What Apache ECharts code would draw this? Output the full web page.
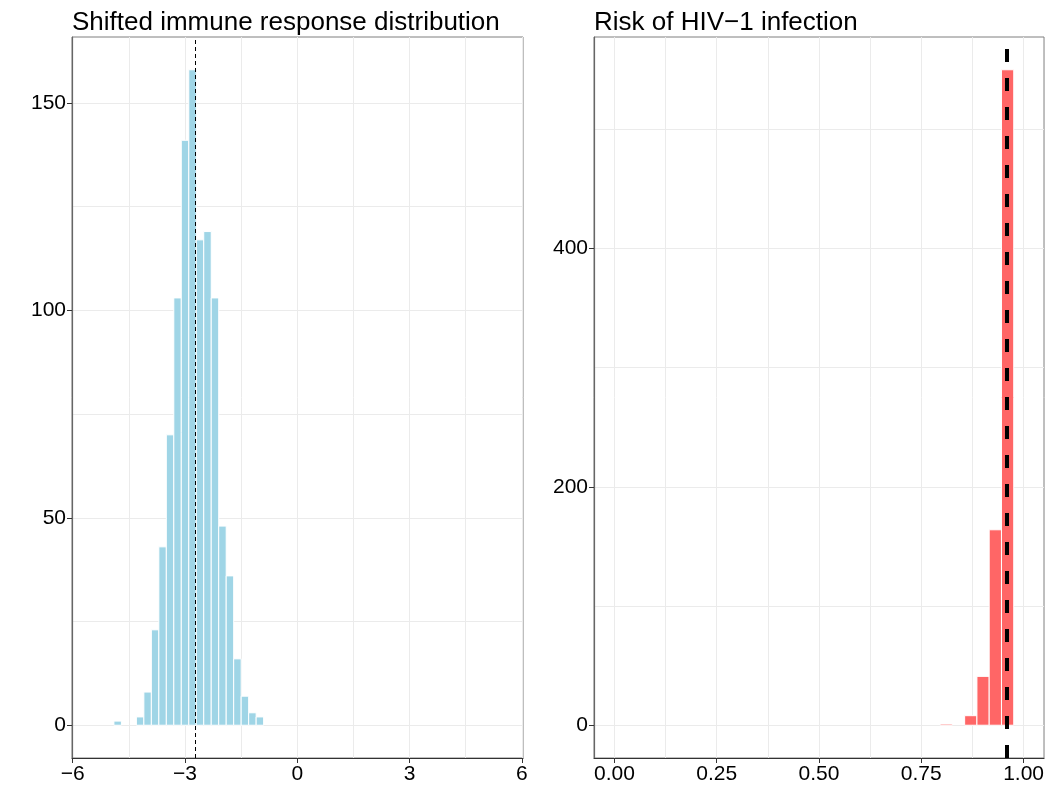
<!DOCTYPE html>
<html>
<head>
<meta charset="utf-8">
<script src="https://cdn.jsdelivr.net/npm/echarts@6/dist/echarts.min.js"></script>
<style>
  html, body { margin: 0; padding: 0; background: #fff; }
  #chart { width: 1047px; height: 797px; }
</style>
</head>
<body>
<div id="chart"></div>
<script>
// left panel: shifted immune response histogram (bin centres, counts)
const immuneBins = [-4.8, -4.2, -4.0, -3.8, -3.6, -3.4, -3.2, -3.0, -2.8, -2.6, -2.4, -2.2, -2.0, -1.8, -1.6, -1.4, -1.2, -1.0]
const immuneCounts = [1, 2, 8, 23, 43, 70, 103, 141, 158, 117, 119, 103, 48, 36, 16, 7, 3, 2]
const immuneBinWidth = 0.2
const immuneMean = -2.73

// right panel: risk of HIV-1 infection histogram
const riskBins = [0.811, 0.871, 0.901, 0.931, 0.961]
const riskCounts = [1, 8, 41, 164, 550]
const riskBinWidth = 0.03
const riskMean = 0.9585

// tick labels
const immuneXTicks = [-6, -3, 0, 3, 6]
const immuneYTicks = [0, 50, 100, 150]
const riskXTicks = [0, 0.25, 0.5, 0.75, 1]
const riskYTicks = [0, 200, 400]
// grid lines (major + minor)
const immuneXGrid = [-6, -4.5, -3, -1.5, 0, 1.5, 3, 4.5, 6]
const immuneYGrid = [0, 25, 50, 75, 100, 125, 150]
const riskXGrid = [0, 0.125, 0.25, 0.375, 0.5, 0.625, 0.75, 0.875, 1]
const riskYGrid = [0, 100, 200, 300, 400, 500]

const FONT = 'Liberation Sans, Arial, Helvetica, sans-serif'

let myChart = echarts.init(document.getElementById('chart'))

function minusFmt(v) {
  return v < 0 ? '\u2212' + Math.abs(v) : String(v)
}

function barRenderer(width, color) {
  return function (params, api) {
    let x = api.value(0)
    let c = api.value(1)
    let p0 = api.coord([x - width / 2, 0])
    let p1 = api.coord([x + width / 2, c])
    return {
      type: 'rect',
      shape: { x: p0[0], y: p1[1], width: p1[0] - p0[0], height: p0[1] - p1[1] },
      style: { fill: color, stroke: '#ffffff', lineWidth: 1 }
    }
  }
}

function mainAxis(gridIndex, min, max, ticks, fmt, lineColor) {
  return {
    type: 'value',
    gridIndex: gridIndex,
    min: min,
    max: max,
    axisLine: { show: true, onZero: false, lineStyle: { color: lineColor, width: 1.2 } },
    axisTick: { show: true, length: 5, customValues: ticks, lineStyle: { color: '#333' } },
    axisLabel: { show: true, customValues: ticks, formatter: fmt, color: '#000', fontSize: 21, fontFamily: FONT, margin: 6 },
    splitLine: { show: false }
  }
}

function gridAxis(gridIndex, min, max, values) {
  return {
    type: 'value',
    gridIndex: gridIndex,
    min: min,
    max: max,
    axisLine: { show: false },
    axisTick: { show: false, customValues: values },
    axisLabel: { show: false, customValues: values },
    splitLine: { show: true, customValues: values, lineStyle: { color: '#ebebeb', width: 1 } }
  }
}

let options = {
  backgroundColor: '#ffffff',
  animation: false,
  title: [
    { text: 'Shifted immune response distribution', left: 67, top: 5,
      textStyle: { fontSize: 26, fontWeight: 'normal', color: '#000', fontFamily: FONT } },
    { text: 'Risk of HIV\u22121 infection', left: 589, top: 5,
      textStyle: { fontSize: 26, fontWeight: 'normal', color: '#000', fontFamily: FONT } }
  ],
  grid: [
    { left: 72, right: 524, top: 37, bottom: 39, show: true, borderColor: '#7f7f7f', borderWidth: 1 },
    { left: 594, right: 2, top: 37, bottom: 39, show: true, borderColor: '#7f7f7f', borderWidth: 1 }
  ],
  xAxis: [
    mainAxis(0, -6.02, 6.03, immuneXTicks, minusFmt, '#333'),
    mainAxis(1, -0.05, 1.05, riskXTicks, v => v.toFixed(2), '#333'),
    gridAxis(0, -6.02, 6.03, immuneXGrid),
    gridAxis(1, -0.05, 1.05, riskXGrid)
  ],
  yAxis: [
    mainAxis(0, -7.9, 165.9, immuneYTicks, minusFmt, '#666'),
    mainAxis(1, -27.5, 577.5, riskYTicks, minusFmt, '#666'),
    gridAxis(0, -7.9, 165.9, immuneYGrid),
    gridAxis(1, -27.5, 577.5, riskYGrid)
  ],
  series: [
    {
      type: 'custom',
      xAxisIndex: 0,
      yAxisIndex: 0,
      renderItem: barRenderer(immuneBinWidth, '#9fd5e6'),
      data: immuneBins.map((b, i) => [b, immuneCounts[i]]),
      markLine: {
        silent: true,
        symbol: 'none',
        label: { show: false },
        lineStyle: { color: '#000', width: 1, type: [4, 3] },
        data: [{ xAxis: immuneMean }]
      }
    },
    {
      type: 'custom',
      xAxisIndex: 1,
      yAxisIndex: 1,
      renderItem: barRenderer(riskBinWidth, '#ff6666'),
      data: riskBins.map((b, i) => [b, riskCounts[i]]),
      markLine: {
        silent: true,
        symbol: 'none',
        label: { show: false },
        lineStyle: { color: '#000', width: 4, type: [13, 16] },
        data: [{ xAxis: riskMean }]
      }
    }
  ]
}

myChart.setOption(options)
</script>
</body>
</html>
